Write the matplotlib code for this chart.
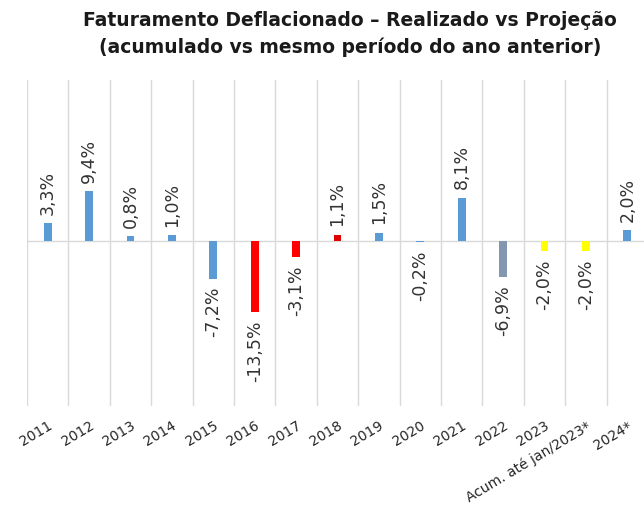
import numpy as np
import matplotlib.pyplot as plt

categories = ['2011', '2012', '2013', '2014', '2015', '2016', '2017', '2018',
              '2019', '2020', '2021', '2022', '2023', 'Acum. até jan/2023*', '2024*']
values = [3.3, 9.4, 0.8, 1.0, -7.2, -13.5, -3.1, 1.1, 1.5, -0.2, 8.1, -6.9, -2.0, -2.0, 2.0]
colors = ['#5B9BD5', '#5B9BD5', '#5B9BD5', '#5B9BD5', '#5B9BD5', '#FF0000', '#FF0000', '#E00000',
          '#5B9BD5', '#5B9BD5', '#5B9BD5', '#8497B0', '#FFFF00', '#FFFF00', '#5B9BD5']
title = 'Faturamento Deflacionado – Realizado vs Projeção\n(acumulado vs mesmo período do ano anterior)'

plt.rcParams['font.family'] = ['DejaVu Sans']

fig = plt.figure(figsize=(6.44, 5.15), dpi=100)
ax = fig.add_axes([27 / 644, 1 - 406 / 515, 621 / 644, 326 / 515])

x = np.arange(len(categories))
ax.bar(x, values, width=0.19, color=colors, zorder=3)

# data labels, rotated
for xi, v in zip(x, values):
    lbl = f'{v:.1f}%'.replace('.', ',')
    if v >= 0:
        ax.annotate(lbl, (xi, v), xytext=(0, 6), textcoords='offset points',
                    rotation=90, ha='center', va='bottom', fontsize=12.5, color='#333333')
    else:
        ax.annotate(lbl, (xi, v), xytext=(0, -6), textcoords='offset points',
                    rotation=90, ha='center', va='top', fontsize=12.5, color='#333333')

ax.set_xlim(-0.5, len(categories) - 0.5)
ax.set_ylim(-31.3, 30.4)
ax.axhline(0, color='#D9D9D9', lw=1, zorder=1)

# category separators
ax.set_xticks(np.arange(len(categories) + 1) - 0.5, minor=True)
ax.grid(True, which='minor', axis='x', color='#D9D9D9', lw=1)
ax.tick_params(which='minor', length=0)

ax.set_xticks(x)
ax.set_xticklabels(categories, rotation=31, ha='right', rotation_mode='anchor',
                   fontsize=10, color='#262626')
ax.tick_params(axis='x', which='major', length=0, pad=9)
ax.set_yticks([])
for s in ax.spines.values():
    s.set_visible(False)

fig.text(0.543, 0.978, title, ha='center', va='top', fontsize=13.5, fontweight='bold',
         color='#1a1a1a', linespacing=1.45)

fig.savefig('out.png', dpi=100)
